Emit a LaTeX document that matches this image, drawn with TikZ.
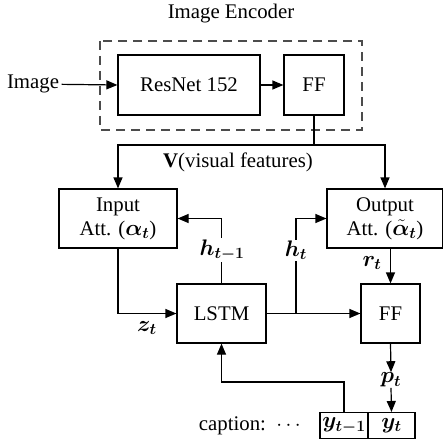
\RequirePackage{fix-cm}
\documentclass[tikz,border=0pt]{standalone}
\usepackage{amsmath,bm}
\usepackage{fontspec}
\setmainfont{Liberation Serif}
\usetikzlibrary{arrows.meta,calc}
\newcommand{\mymath}[1]{{\fontsize{22.5}{26}\selectfont$\bm{#1}$}}
\begin{document}
\begin{tikzpicture}[x=1pt,y=-1pt,line width=1.2pt,
  every node/.style={font=\fontsize{20.8}{24}\selectfont},
  blk/.style={draw,rectangle,align=center,inner sep=0pt},
  arr/.style={-{Triangle[length=11pt,width=9pt]}},
  lbl/.style={inner sep=1pt,fill=white}]
\useasboundingbox (0,0) rectangle (443,438);
\node (title) at (231,14) {Image Encoder};
\draw[gray!60!black,dash pattern=on 9pt off 6pt] (100,41) rectangle (362,130);
\node[blk,minimum width=142pt,minimum height=60pt] (resnet) at (189,85) {ResNet 152};
\node[blk,minimum width=60pt,minimum height=60pt] (ff1) at (314,85) {FF};
\node[inner sep=2pt] (img) at (33,84) {Image};
\draw[arr] (img) -- (resnet.west);
\draw[arr] (resnet.east) -- (ff1.west);
\node[blk,minimum width=118pt,minimum height=59pt] (inatt) at (118,218.5) {Input\\Att. (\mymath{\alpha_t})};
\node[blk,minimum width=116pt,minimum height=59pt] (outatt) at (385,218.5) {Output\\Att. (\mymath{\tilde{\alpha}_t})};
\node[blk,minimum width=89pt,minimum height=59pt] (lstm) at (221.5,313.5) {LSTM};
\node[blk,minimum width=59pt,minimum height=59pt] (ff2) at (390.5,313.5) {FF};
\coordinate (vj) at (314,145);
\draw (ff1.south) -- (vj);
\draw[arr] (vj) -| (inatt.north);
\draw[arr] (vj) -| (outatt.north);
\node (vlab) at (238,162) {$\mathbf{V}$(visual features)};
\draw[arr] (lstm.north) |- (inatt.east);
\node[lbl] (hprev) at (222,250) {\mymath{h_{t-1}}};
\coordinate (ht) at (296,313.5);
\draw[arr] (ht) |- (outatt.west);
\node[lbl] (hlab) at (296,250) {\mymath{h_t}};
\draw[arr] (lstm.east) -- (ff2.west);
\draw[arr] (inatt.south) |- (lstm.west);
\node (zt) at (147,328) {\mymath{z_t}};
\draw[arr] (outatt.south -| ff2.north) -- (ff2.north);
\node (rt) at (372,263) {\mymath{r_t}};
\node[blk,minimum width=48pt,minimum height=26pt,anchor=north] (yprev) at (344,412) {\mymath{y_{t-1}}};
\node[blk,minimum width=47pt,minimum height=26pt,anchor=north] (ycur) at (391.5,412) {\mymath{y_t}};
\node[inner sep=0pt] (pt) at (391,380) {\mymath{p_t}};
\draw[arr] (ff2.south) -- (pt.north);
\draw[arr] (pt.south) -- (ycur.north);
\draw[arr] (yprev.north) -- ++(0,-30) -| (lstm.south);
\node[anchor=east] (cap) at (308,426) {caption:\ \ $\cdots$};
\end{tikzpicture}
\end{document}
